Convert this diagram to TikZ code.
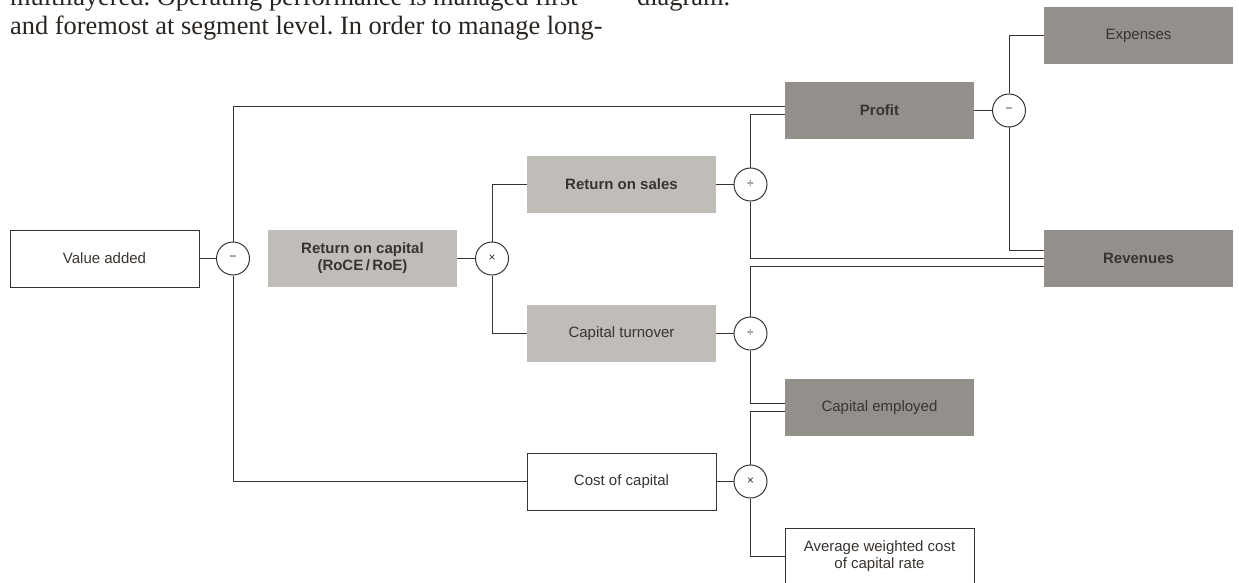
\documentclass[tikz,border=0pt]{standalone}
\usepackage{fontspec}
\setmainfont{Liberation Sans}
\newfontfamily\bodyserif{Liberation Serif}
\usetikzlibrary{calc}
\definecolor{boxdark}{HTML}{938F8A}
\definecolor{boxlight}{HTML}{C0BCB8}
\definecolor{ink}{HTML}{3A3430}
\definecolor{bodyink}{HTML}{2A2420}
\frenchspacing
\begin{document}
\begin{tikzpicture}[x=1pt,y=-1pt,
  base/.style={minimum width=189pt, minimum height=57pt, inner sep=0pt, text=ink, font=\fontsize{15}{17}\selectfont, align=center},
  darkbox/.style={base, fill=boxdark},
  lightbox/.style={base, fill=boxlight},
  whitebox/.style={base, draw=ink, line width=0.9pt, fill=white},
  boldtext/.style={font=\fontsize{15}{17}\selectfont\bfseries},
  op/.style={circle, draw=ink, line width=1pt, fill=white, minimum size=33pt, inner sep=0pt, text=ink, font=\fontsize{12}{12}\selectfont},
  link/.style={draw=ink, line width=1pt},
  bodytext/.style={anchor=base west, inner sep=0pt, text=bodyink, font=\bodyserif\fontsize{26.4}{29}\selectfont}
]
\useasboundingbox (0,0) rectangle (1239,583);

% surrounding page text
\node[bodytext] (t1) at (10,6) {multilayered. Operating performance is managed first};
\node[bodytext] (t2) at (10,35) {and foremost at segment level. In order to manage long-};
\node[bodytext] (t3) at (637,6) {diagram.};

% boxes
\node[whitebox] (va) at (104.5,258.5) {Value added};
\node[op] (m1) at (233,258.5) {−};
\node[lightbox, boldtext] (roce) at (362.5,258.5) {Return on capital\\(RoCE\,/\,RoE)};
\node[op] (x1) at (492,258.5) {×};
\node[lightbox, boldtext] (ros) at (621.5,184.5) {Return on sales};
\node[lightbox] (ct) at (621.5,333.5) {Capital turnover};
\node[whitebox] (coc) at (621.5,481.5) {Cost of capital};
\node[op] (d1) at (750.5,184.5) {÷};
\node[op] (d2) at (750.5,333.5) {÷};
\node[op] (x2) at (750.5,481.5) {×};
\node[darkbox, boldtext] (profit) at (879.5,110.5) {Profit};
\node[darkbox] (ce) at (879.5,407.5) {Capital employed};
\node[whitebox] (awcc) at (879.5,556.5) {Average weighted cost\\of capital rate};
\node[op] (m2) at (1009,110.5) {−};
\node[darkbox] (exp) at (1138.5,35.5) {Expenses};
\node[darkbox, boldtext] (rev) at (1138.5,258.5) {Revenues};

% connectors
\draw[link] (va) -- (m1);
\draw[link] (m1.north) |- ([yshift=4pt]profit.west);
\draw[link] (m1.south) |- (coc.west);
\draw[link] (roce) -- (x1);
\draw[link] (x1.north) |- (ros.west);
\draw[link] (x1.south) |- (ct.west);
\draw[link] (ros) -- (d1);
\draw[link] (d1.north) |- ([yshift=-4pt]profit.west);
\draw[link] (d1.south) |- (rev.west);
\draw[link] (ct) -- (d2);
\draw[link] (d2.north) |- ([yshift=-8pt]rev.west);
\draw[link] (d2.south) |- ([yshift=4pt]ce.west);
\draw[link] (coc) -- (x2);
\draw[link] (x2.north) |- ([yshift=-4pt]ce.west);
\draw[link] (x2.south) |- (awcc.west);
\draw[link] (profit) -- (m2);
\draw[link] (m2.north) |- (exp.west);
\draw[link] (m2.south) |- ([yshift=8pt]rev.west);
\end{tikzpicture}
\end{document}
